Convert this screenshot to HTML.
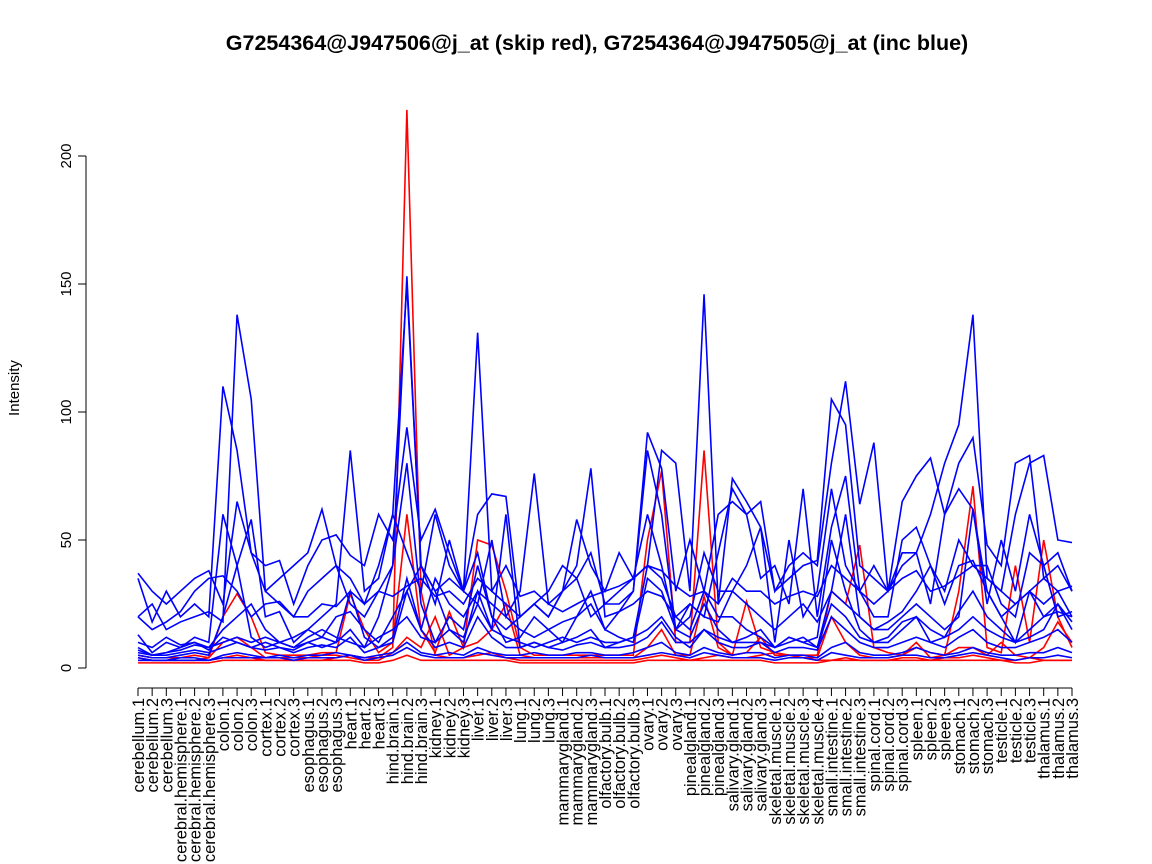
<!DOCTYPE html>
<html><head><meta charset="utf-8"><style>
body{margin:0;background:#fff;}
svg{display:block;font-family:"Liberation Sans",sans-serif;}
</style></head><body>
<svg id="chart" width="1152" height="864">
<text x="597" y="50" text-anchor="middle" font-size="21.5" font-weight="bold">G7254364@J947506@j_at (skip red), G7254364@J947505@j_at (inc blue)</text>
<text transform="translate(19,388) rotate(-90)" text-anchor="middle" font-size="15">Intensity</text>
<g id="yaxis"></g>
<g id="xaxis"></g>
<g id="series"></g>
</svg>
<script>
const categories=[];
const groups=[["cerebellum",3],["cerebral.hemisphere",3],["colon",3],["cortex",3],["esophagus",3],["heart",3],["hind.brain",3],["kidney",3],["liver",3],["lung",3],["mammarygland",3],["olfactory.bulb",3],["ovary",3],["pinealgland",3],["salivary.gland",3],["skeletal.muscle",4],["small.intestine",3],["spinal.cord",3],["spleen",3],["stomach",3],["testicle",3],["thalamus",3]];
groups.forEach(g=>{for(let i=1;i<=g[1];i++)categories.push(g[0]+"."+i);});
const yTicks=[0,50,100,150,200];
const redSeries=[
[4,3,3,3,3,3,4,5,4,3,3,3,3,3,4,5,4,4,8,218,30,5,4,4,5,6,4,3,3,3,3,3,3,3,3,3,4,5,4,3,4,5,4,4,5,6,5,4,3,3,4,3,3,3,4,4,3,4,4,5,4,3,3,4,3,3,3],
[5,4,4,4,5,4,20,29,20,6,5,5,5,6,6,29,15,6,10,60,15,6,22,8,50,48,30,8,5,5,5,5,5,5,5,5,50,77,10,10,85,10,5,26,8,6,5,5,5,30,25,48,8,6,5,8,6,5,30,71,8,6,40,10,50,20,8],
[3,3,3,3,3,4,10,12,8,4,4,4,4,5,5,4,3,3,6,12,8,20,5,8,10,15,25,5,4,4,4,4,4,4,4,4,8,15,5,5,28,8,5,6,12,5,5,4,4,20,10,5,4,4,5,10,4,5,8,8,5,10,5,4,8,18,10],
[2,2,2,2,2,2,3,3,3,3,3,3,3,3,3,3,2,2,3,5,3,3,3,3,3,3,3,2,2,2,2,2,2,2,2,2,3,3,3,3,3,3,3,3,3,2,2,2,2,3,3,3,3,3,3,3,3,3,3,3,3,3,2,2,3,3,3]
];
const blueSeries=[
[20,25,15,18,20,22,18,138,105,30,25,20,30,35,40,25,20,30,40,153,40,30,35,30,131,30,25,20,25,20,30,35,20,25,30,35,40,85,80,30,146,25,74,65,55,30,35,40,42,105,95,40,35,30,40,45,60,80,95,138,35,30,60,80,83,50,49],
[37,30,25,30,35,38,25,65,45,30,35,40,45,62,40,35,25,40,60,150,40,25,50,30,60,68,67,20,25,30,40,35,45,25,25,30,92,78,30,50,30,60,65,60,65,30,40,45,40,80,112,64,88,30,65,75,82,60,80,90,48,40,80,83,35,30,32],
[35,18,30,20,25,20,110,85,45,40,42,25,40,50,52,44,40,60,50,94,50,62,45,30,25,50,20,30,76,25,30,58,40,30,45,35,60,40,15,25,20,45,70,60,35,40,25,70,20,55,75,30,40,30,45,45,25,60,70,62,25,50,30,60,40,45,30],
[13,6,10,8,12,10,60,40,58,20,22,10,15,20,25,85,30,35,60,45,30,60,40,30,45,20,15,20,25,20,30,40,78,20,22,30,85,60,15,20,45,30,30,40,55,10,50,20,30,70,40,30,20,20,50,55,40,30,50,40,40,25,20,45,40,20,22],
[5,4,4,5,6,5,20,40,12,8,10,8,10,12,10,30,12,8,10,30,40,30,15,10,30,15,60,8,10,8,10,12,15,8,10,12,40,35,20,15,30,20,20,15,12,8,10,12,8,30,60,20,15,15,20,25,20,15,20,62,30,20,10,30,25,30,20],
[8,5,6,7,9,8,10,12,10,12,10,8,12,15,12,10,8,20,40,80,25,10,20,15,40,20,10,12,20,15,18,20,25,15,12,10,35,30,15,12,25,15,10,12,15,8,12,10,12,50,30,15,10,12,18,20,15,12,22,30,20,15,10,15,20,25,18],
[6,5,5,6,7,6,8,10,8,7,8,6,8,9,8,12,6,8,12,35,15,8,10,8,20,12,8,8,10,8,7,9,10,8,8,9,12,18,10,10,15,10,8,8,10,6,8,8,7,20,15,10,8,8,10,12,10,8,12,15,10,8,8,10,12,15,10],
[10,8,12,9,10,8,15,20,25,15,10,12,15,12,20,22,15,10,20,30,15,35,25,20,30,25,20,15,12,15,10,20,30,15,22,25,30,28,20,25,20,18,30,25,20,15,20,25,18,30,25,20,15,18,22,30,40,25,40,42,30,20,25,30,20,22,20],
[4,3,3,4,4,3,5,6,5,4,5,4,5,5,6,5,4,5,6,10,6,5,6,5,8,6,5,5,6,5,5,6,6,5,5,6,8,10,6,5,8,6,5,6,6,4,5,5,4,8,10,6,5,5,6,8,6,5,6,8,6,5,5,6,6,8,6],
[20,15,18,22,30,35,36,30,20,25,26,20,20,25,24,30,25,30,28,32,35,28,30,25,35,30,40,28,30,25,22,25,28,30,32,35,40,38,32,28,30,25,35,30,30,25,28,30,28,40,35,30,25,30,35,38,30,32,36,40,35,30,25,30,35,40,30],
[7,5,6,8,10,7,12,10,8,10,8,7,10,8,10,15,8,12,15,20,12,10,15,12,25,15,12,10,8,10,12,10,12,10,10,12,15,20,12,8,15,12,10,10,10,8,12,10,8,25,20,12,10,10,15,20,10,12,15,20,15,12,10,12,15,25,15],
[3,3,3,3,3,3,4,4,4,4,4,3,4,4,4,5,3,4,5,8,5,4,4,4,6,5,4,4,4,4,4,4,5,4,4,4,5,6,5,4,6,5,4,4,4,3,4,4,3,6,5,4,4,4,5,5,4,4,5,6,5,4,3,4,4,5,4]
];
const NS="http://www.w3.org/2000/svg";
const x0=138,x1=1072,yBase=668,yTop=156;
function xs(i){return x0+i*(x1-x0)/(categories.length-1);}
function ys(v){return yBase-(v/200)*(yBase-yTop);}
function mk(t,a,p){const e=document.createElementNS(NS,t);for(const k in a)e.setAttribute(k,a[k]);p.appendChild(e);return e;}
const ya=document.getElementById('yaxis');
const yl=mk('line',{x1:86,x2:86,y1:ys(0),y2:ys(200),stroke:'#000'},ya);


yTicks.forEach(v=>{
 const t=mk('line',{x1:78,x2:86,y1:ys(v),y2:ys(v),stroke:'#000'},ya);
 
 
 const l=mk('text',{transform:`translate(71,${ys(v)}) rotate(-90)`,'text-anchor':'middle','font-size':15},ya);
 l.textContent=v;
 
 
});
const xa=document.getElementById('xaxis');
const xl=mk('line',{x1:xs(0),x2:xs(categories.length-1),y1:688,y2:688,stroke:'#000'},xa);


categories.forEach((c,i)=>{
 const t=mk('line',{x1:xs(i),x2:xs(i),y1:688,y2:696,stroke:'#000'},xa);
 
 
 const l=mk('text',{transform:`translate(${xs(i)+6},698) rotate(-90)`,'text-anchor':'end','font-size':16.5},xa);
 l.textContent=c;
 
 
});
const sg=document.getElementById('series');
function draw(arr,color,name){
 arr.forEach(s=>{
  const p=mk('polyline',{points:s.map((v,i)=>xs(i)+','+ys(v)).join(' '),fill:'none',stroke:color,'stroke-width':1.6},sg);
  
  
 });
}
draw(redSeries,'#ff0000','red-series-line');
draw(blueSeries,'#0000ff','blue-series-line');
</script>
</body></html>
